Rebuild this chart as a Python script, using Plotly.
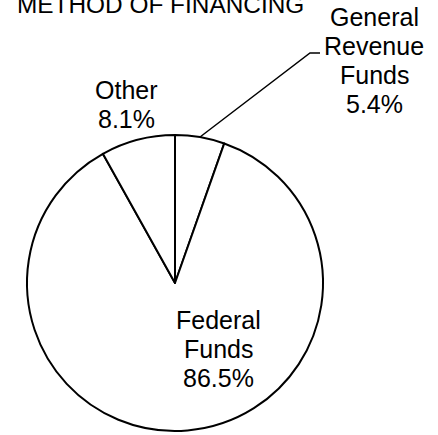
import plotly.graph_objects as go

W, H = 438, 435

categories = ["General Revenue Funds", "Federal Funds", "Other"]
shares = [5.4, 86.5, 8.1]
title_text = "METHOD OF FINANCING"

FONT = "Liberation Sans, Arial, sans-serif"
FS = 25

def px(x, y):
    return x / W, 1 - y / H

fig = go.Figure(go.Pie(
    labels=categories,
    values=shares,
    sort=False,
    direction="clockwise",
    rotation=0,
    textinfo="none",
    hoverinfo="label+percent",
    marker=dict(colors=["white"] * 3, line=dict(color="black", width=2)),
    domain=dict(x=[27 / W, 323 / W], y=[1 - 431 / H, 1 - 135 / H]),
    showlegend=False,
))

label_lines = {
    "General Revenue Funds": ["General", "Revenue", "Funds"],
    "Federal Funds": ["Federal", "Funds"],
    "Other": ["Other"],
}
# (center x, first baseline y) in pixels
label_pos = {
    "General Revenue Funds": (374, 25),
    "Federal Funds": (218, 328),
    "Other": (126, 98),
}
STEP = 29
annots = []
for c, v in zip(categories, shares):
    x, y = label_pos[c]
    lines = label_lines[c] + [f"{v}%"]
    for i, t in enumerate(lines):
        xp, yp = px(x, y + i * STEP - 8)
        annots.append(dict(x=xp, y=yp, xref="paper", yref="paper", text=t,
                           showarrow=False, font=dict(family=FONT, size=FS, color="black"),
                           align="center", xanchor="center", yanchor="middle"))

annots.append(dict(x=15 / W, y=1, xref="paper", yref="paper", text=title_text,
                   showarrow=False, font=dict(family=FONT, size=24.4, color="black"),
                   xanchor="left", yanchor="middle", yshift=-4))

p0 = px(200, 137); p1 = px(310, 53); p2 = px(320, 53)
fig.add_shape(type="path", xref="paper", yref="paper",
              path=f"M {p0[0]} {p0[1]} L {p1[0]} {p1[1]} L {p2[0]} {p2[1]}",
              line=dict(color="black", width=1.5))

fig.update_layout(width=W, height=H, margin=dict(l=0, r=0, t=0, b=0),
                  paper_bgcolor="white", plot_bgcolor="white", annotations=annots)

fig.write_html("out.html", config={"displayModeBar": False},
               post_script="document.body.style.margin='0';")
